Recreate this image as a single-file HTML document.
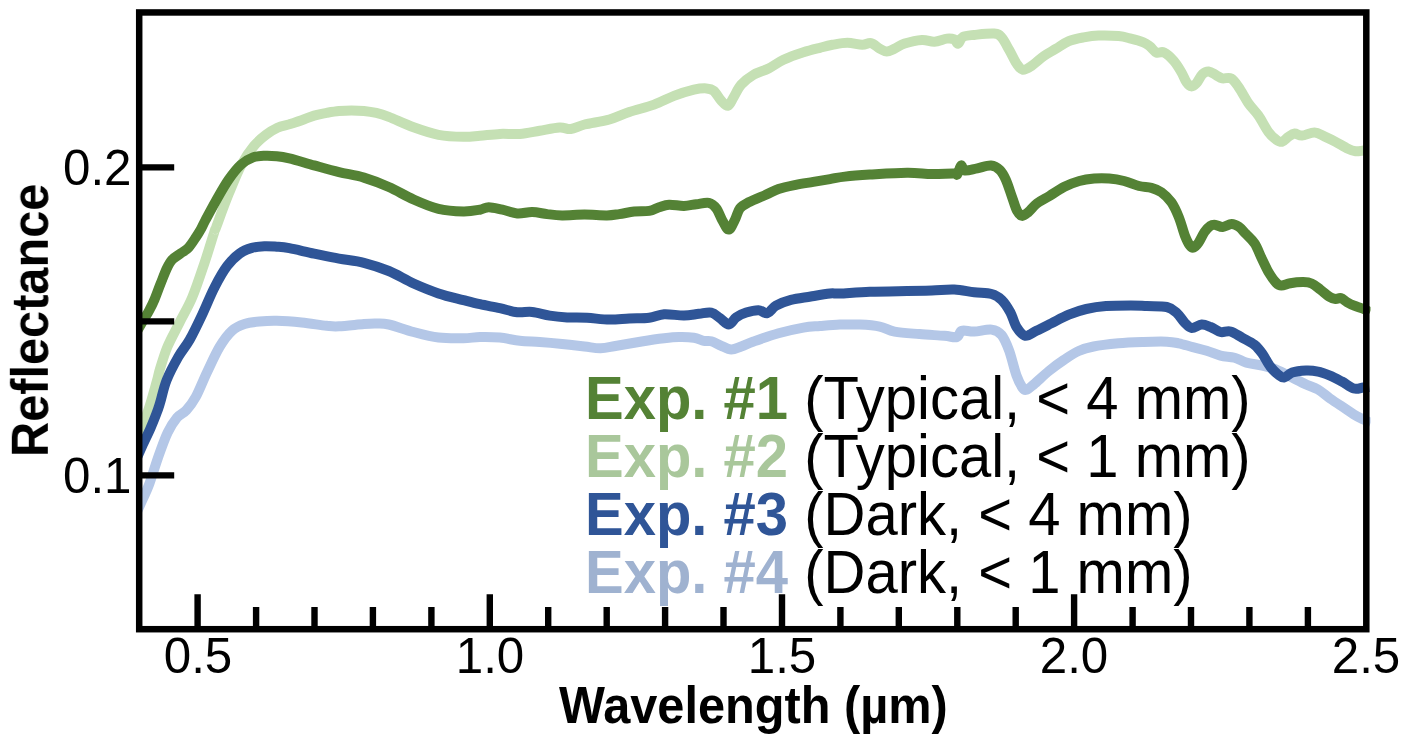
<!DOCTYPE html>
<html lang="en"><head><meta charset="utf-8"><title>Reflectance spectra</title>
<style>
html,body{margin:0;padding:0;background:#fff;}
body{width:1407px;height:745px;position:relative;overflow:hidden;font-family:"Liberation Sans",Arial,sans-serif;color:#000;}
svg{position:absolute;left:0;top:0;display:block;}
.t{position:absolute;white-space:nowrap;line-height:1;will-change:transform;}
.ax{font-size:49.3px;}
.b{font-weight:bold;}
.lg{font-size:58px;left:584.7px;transform-origin:0 84.65%;transform:scaleY(1.045);}
.c1{color:#548235}.c2{color:#a9c79b}.c3{color:#2f5597}.c4{color:#9fb2d0}
</style></head><body>
<svg width="1407" height="745" viewBox="0 0 1407 745">
<rect width="1407" height="745" fill="#fff"/>
<clipPath id="cp"><rect x="139" y="9" width="1231.5" height="623"/></clipPath>
<g fill="none" clip-path="url(#cp)" stroke-linejoin="round" stroke-linecap="butt" stroke-width="10">
<path stroke="#b4c7e7" d="M136.0 514.0C137.0 511.7 140.1 505.1 142.2 500.3C144.3 495.5 146.1 492.5 148.8 485.3C151.5 478.1 155.1 465.9 158.2 457.1C161.3 448.3 164.5 439.2 167.6 432.6C170.7 426.0 173.9 421.4 177.0 417.6C180.1 413.9 183.3 413.6 186.4 410.1C189.5 406.7 192.3 403.3 195.8 396.9C199.3 390.5 203.2 380.1 207.2 371.8C211.2 363.5 215.5 353.8 219.6 346.9C223.7 340.0 227.8 334.5 232.0 330.7C236.2 326.9 239.9 325.5 244.5 324.0C249.1 322.5 254.0 322.0 259.4 321.5C264.8 321.0 269.8 320.6 276.8 320.8C283.9 321.0 293.4 321.7 301.7 322.5C310.0 323.3 320.4 325.2 326.6 325.8C332.8 326.4 332.8 326.6 339.0 326.3C345.2 326.0 357.7 324.5 363.9 324.0C370.1 323.5 372.1 323.4 376.3 323.5C380.5 323.6 382.6 323.1 388.8 324.5C395.0 325.9 405.3 329.8 413.6 332.0C421.9 334.2 430.2 336.5 438.5 337.5C446.8 338.5 456.5 338.3 463.4 338.2C470.3 338.1 473.9 337.2 480.0 337.1C486.1 337.0 493.3 337.0 499.9 337.6C506.5 338.2 513.2 340.1 519.8 340.8C526.4 341.5 532.7 341.5 539.7 342.0C546.8 342.5 554.6 343.2 562.1 344.0C569.6 344.8 578.1 345.8 584.5 346.5C590.9 347.2 595.2 348.4 600.6 348.3C606.0 348.2 609.9 346.9 616.8 345.8C623.6 344.7 633.8 342.8 641.7 341.5C649.6 340.2 657.9 339.0 664.1 338.3C670.3 337.6 674.0 337.2 679.0 337.1C684.0 337.0 689.8 337.2 693.9 337.8C698.0 338.4 701.0 340.2 703.9 340.8C706.8 341.4 708.4 340.5 711.3 341.3C714.2 342.1 718.0 344.4 721.3 345.8C724.6 347.2 727.9 349.4 731.2 349.5C734.5 349.6 737.5 347.8 741.2 346.5C744.9 345.2 747.4 343.7 753.6 341.5C759.8 339.3 770.2 335.6 778.5 333.3C786.8 331.0 796.5 328.8 803.4 327.6C810.3 326.4 813.9 326.5 820.0 326.0C826.1 325.5 833.3 324.8 839.9 324.6C846.5 324.4 853.2 324.3 859.8 324.6C866.4 324.9 873.9 325.4 879.7 326.6C885.5 327.8 888.0 330.4 894.6 331.6C901.2 332.9 911.2 333.4 919.5 334.1C927.8 334.8 938.2 335.3 944.4 335.8C950.6 336.3 953.9 337.9 956.8 337.1C959.7 336.3 958.9 331.7 961.8 330.8C964.7 329.9 969.2 331.8 974.2 331.6C979.2 331.4 987.0 329.0 991.6 329.6C996.2 330.2 998.7 331.5 1001.6 335.0C1004.5 338.5 1006.6 343.8 1009.1 350.5C1011.6 357.2 1014.2 369.2 1016.5 375.5C1018.8 381.8 1021.0 385.7 1022.7 388.1C1024.4 390.5 1024.6 390.4 1026.5 389.8C1028.4 389.2 1030.2 387.4 1033.9 384.3C1037.6 381.2 1043.9 375.1 1048.9 371.0C1053.9 366.9 1058.8 363.3 1063.8 360.0C1068.8 356.7 1073.7 353.2 1078.7 351.0C1083.7 348.8 1087.0 347.8 1093.6 346.5C1100.2 345.2 1110.2 344.1 1118.5 343.3C1126.8 342.6 1135.4 342.3 1143.4 342.0C1151.5 341.7 1160.9 341.5 1166.8 341.7C1172.7 341.9 1174.4 342.4 1178.7 343.3C1183.0 344.2 1188.1 345.9 1192.7 347.1C1197.3 348.3 1202.0 349.3 1206.6 350.7C1211.2 352.1 1215.8 354.5 1220.5 355.7C1225.2 356.9 1230.2 356.5 1234.5 357.7C1238.8 358.9 1241.8 361.3 1246.4 362.6C1251.0 363.9 1257.3 364.4 1262.3 365.6C1267.3 366.8 1271.3 367.6 1276.3 369.6C1281.3 371.6 1287.2 375.1 1292.2 377.6C1297.2 380.1 1301.8 382.5 1306.1 384.5C1310.4 386.5 1314.0 387.2 1318.0 389.5C1322.0 391.8 1326.0 395.7 1330.0 398.5C1334.0 401.3 1337.9 403.8 1341.9 406.4C1345.9 409.0 1350.4 412.2 1353.9 414.4C1357.5 416.6 1360.4 418.0 1363.2 419.4C1366.0 420.8 1369.5 422.3 1370.8 422.9"/>
<path stroke="#c5e0b4" d="M136.0 452.0C137.0 448.0 139.9 435.8 142.2 428.0C144.5 420.2 147.6 412.8 150.0 405.0C152.4 397.2 155.2 386.9 156.9 381.0C158.6 375.1 158.2 375.0 159.9 369.3C161.7 363.6 164.1 354.8 167.4 346.9C170.7 339.0 175.7 330.3 179.8 322.0C184.0 313.7 188.2 307.1 192.3 297.2C196.5 287.2 201.0 273.2 204.7 262.3C208.4 251.4 212.3 238.1 214.3 232.0C216.3 225.9 214.2 232.5 216.6 226.0C219.0 219.5 224.8 203.4 229.0 193.2C233.2 183.0 237.3 172.5 241.5 164.6C245.7 156.7 249.8 151.0 253.9 146.0C258.0 141.0 262.1 137.8 266.0 134.8C269.9 131.8 273.6 129.6 277.5 127.8C281.4 126.0 285.3 125.5 289.3 124.3C293.3 123.0 297.6 121.8 301.7 120.3C305.8 118.8 310.0 116.8 314.1 115.6C318.2 114.4 322.5 113.7 326.6 112.9C330.8 112.2 334.9 111.5 339.0 111.1C343.1 110.7 347.2 110.4 351.4 110.4C355.5 110.4 359.8 110.5 363.9 110.9C368.0 111.3 372.1 111.9 376.3 112.9C380.5 113.9 382.6 114.5 388.8 116.9C395.0 119.3 405.3 124.3 413.6 127.3C421.9 130.3 430.2 133.2 438.5 134.8C446.8 136.4 456.5 136.7 463.4 136.8C470.3 137.0 473.9 136.2 480.0 135.7C486.1 135.2 493.3 134.2 499.9 133.9C506.5 133.6 513.2 134.4 519.8 133.9C526.4 133.4 533.1 131.8 539.7 130.7C546.3 129.6 554.4 127.8 559.6 127.5C564.8 127.2 566.6 129.5 570.8 129.0C574.9 128.5 578.1 126.1 584.5 124.5C590.9 122.9 601.9 121.6 609.4 119.5C616.9 117.4 621.8 114.5 629.3 112.0C636.8 109.5 646.6 107.3 654.1 104.6C661.6 101.9 667.4 98.4 674.0 95.9C680.6 93.4 688.5 91.0 693.9 89.7C699.3 88.5 703.1 88.2 706.4 88.4C709.7 88.6 711.3 88.8 713.8 90.9C716.3 93.0 718.9 98.3 721.3 100.8C723.7 103.3 725.9 106.4 728.0 105.8C730.1 105.2 731.5 100.6 733.7 97.1C735.9 93.6 737.9 88.4 741.2 84.7C744.5 81.0 749.0 77.4 753.6 74.7C758.2 72.0 763.6 71.0 768.6 68.5C773.6 66.0 777.7 62.5 783.5 59.8C789.3 57.1 797.3 54.3 803.4 52.3C809.5 50.3 815.2 49.0 820.0 47.8C824.8 46.5 827.8 45.6 832.4 44.8C837.0 44.0 842.4 42.8 847.4 42.8C852.4 42.8 858.4 44.8 862.3 44.8C866.2 44.8 868.1 42.5 871.0 43.1C873.9 43.7 877.1 47.2 879.7 48.6C882.3 50.0 884.2 51.5 886.7 51.5C889.2 51.5 891.6 49.9 894.6 48.6C897.6 47.3 900.0 45.1 904.6 43.6C909.2 42.1 917.0 40.2 922.0 39.9C927.0 39.6 930.2 42.0 934.4 41.8C938.5 41.6 943.6 39.0 946.9 38.6C950.2 38.2 952.4 38.6 954.3 39.4C956.2 40.2 956.6 44.0 958.1 43.6C959.6 43.2 960.3 38.4 963.0 36.9C965.7 35.4 969.0 35.4 974.2 34.9C979.4 34.4 989.5 33.2 994.1 33.6C998.7 34.0 999.1 34.7 1001.6 37.4C1004.1 40.1 1006.6 45.4 1009.1 49.8C1011.6 54.1 1014.2 60.2 1016.5 63.5C1018.8 66.8 1020.2 69.3 1022.7 69.7C1025.2 70.1 1027.9 68.3 1031.4 66.0C1034.9 63.7 1039.8 58.9 1043.9 56.0C1048.1 53.1 1052.2 51.1 1056.3 48.6C1060.4 46.1 1064.2 43.0 1068.8 41.1C1073.4 39.2 1078.7 38.3 1083.7 37.4C1088.7 36.5 1092.8 35.8 1098.6 35.6C1104.4 35.4 1113.1 35.6 1118.5 36.1C1123.9 36.6 1126.8 37.6 1130.9 38.6C1135.1 39.6 1140.2 41.0 1143.4 42.3C1146.6 43.6 1147.8 44.8 1150.0 46.5C1152.2 48.2 1154.2 51.6 1156.5 52.6C1158.8 53.6 1161.1 51.1 1164.0 52.5C1166.9 53.9 1171.0 57.7 1173.9 61.0C1176.8 64.3 1179.3 68.7 1181.4 72.2C1183.5 75.7 1184.8 79.7 1186.4 82.1C1188.1 84.5 1189.7 86.2 1191.3 86.4C1192.9 86.6 1194.4 85.4 1196.3 83.4C1198.2 81.4 1200.4 76.2 1202.5 74.2C1204.6 72.2 1206.4 71.2 1208.7 71.4C1211.0 71.6 1213.9 74.0 1216.2 75.2C1218.5 76.4 1219.9 77.9 1222.4 78.4C1224.9 78.9 1228.4 77.0 1231.1 78.4C1233.8 79.9 1235.7 82.9 1238.6 87.1C1241.5 91.2 1245.2 98.5 1248.5 103.3C1251.8 108.1 1255.2 110.9 1258.5 115.7C1261.8 120.5 1265.5 128.0 1268.4 131.9C1271.3 135.8 1273.6 137.8 1275.9 139.4C1278.2 141.1 1280.0 142.2 1282.1 141.8C1284.2 141.4 1286.2 138.3 1288.3 136.9C1290.4 135.5 1292.3 133.8 1294.6 133.6C1296.9 133.4 1298.7 135.8 1302.0 135.6C1305.3 135.4 1310.8 132.3 1314.5 132.4C1318.2 132.5 1320.9 134.8 1324.4 136.4C1327.9 138.0 1331.7 139.7 1335.6 141.8C1339.5 143.9 1344.7 147.2 1348.0 148.8C1351.3 150.4 1352.9 151.0 1355.5 151.3C1358.1 151.6 1361.4 150.7 1363.5 150.5C1365.6 150.3 1367.2 150.1 1368.0 150.0"/>
<path stroke="#2f5597" d="M136.0 460.0C137.0 457.7 139.8 451.4 142.2 446.0C144.6 440.6 148.2 433.4 150.6 427.9C153.0 422.4 155.1 416.9 156.7 412.8C158.3 408.7 158.3 408.5 160.0 403.0C161.7 397.5 163.6 387.7 166.7 380.0C169.8 372.3 174.5 363.6 178.3 356.9C182.2 350.1 185.8 346.6 189.8 339.5C193.8 332.4 198.1 323.3 202.2 314.6C206.3 305.9 210.4 295.3 214.6 287.2C218.8 279.1 222.9 271.7 227.1 266.1C231.2 260.5 235.4 256.6 239.5 253.6C243.6 250.6 247.8 249.1 251.9 247.9C256.1 246.7 260.2 246.4 264.4 246.2C268.5 246.0 272.6 246.4 276.8 246.7C281.0 247.0 283.1 247.0 289.3 248.2C295.5 249.3 305.8 251.9 314.1 253.6C322.4 255.3 330.7 257.1 339.0 258.6C347.3 260.1 355.6 260.7 363.9 262.8C372.2 264.9 380.5 267.6 388.8 271.0C397.1 274.4 405.3 279.8 413.6 283.5C421.9 287.2 430.2 290.6 438.5 293.4C446.8 296.2 456.5 298.3 463.4 300.1C470.3 301.9 473.9 302.9 480.0 304.2C486.1 305.5 493.7 306.9 499.9 308.2C506.1 309.5 511.9 311.6 517.3 312.2C522.7 312.8 526.8 311.4 532.2 312.0C537.6 312.6 543.9 314.7 549.7 315.6C555.5 316.5 560.9 317.0 567.1 317.4C573.3 317.8 580.0 317.4 587.0 317.8C594.0 318.2 602.4 319.5 609.4 319.6C616.4 319.7 622.7 318.8 629.3 318.5C635.9 318.2 643.4 318.5 649.2 317.8C655.0 317.1 658.3 314.6 664.1 314.2C669.9 313.8 678.2 315.7 684.0 315.6C689.8 315.5 694.4 314.3 698.9 313.8C703.4 313.3 707.8 311.9 711.3 312.6C714.8 313.3 717.1 316.2 720.0 318.2C722.9 320.2 726.1 324.5 728.8 324.4C731.5 324.3 733.3 319.4 736.2 317.4C739.1 315.4 742.5 313.8 746.2 312.6C749.9 311.4 755.1 310.1 758.6 310.2C762.1 310.3 764.4 313.9 767.3 313.2C770.2 312.4 772.1 307.9 776.0 305.7C779.9 303.5 785.1 301.4 790.9 299.9C796.7 298.4 804.3 297.6 810.8 296.5C817.3 295.4 825.1 294.0 830.0 293.5C834.9 293.0 833.3 293.8 839.9 293.5C846.5 293.2 858.6 292.2 869.8 291.8C881.0 291.4 896.8 291.2 907.1 291.0C917.5 290.8 924.0 290.7 931.9 290.5C939.8 290.3 947.2 289.3 954.3 289.6C961.3 289.9 968.0 291.6 974.2 292.3C980.4 293.0 987.0 292.8 991.6 294.0C996.2 295.2 998.5 296.8 1001.6 299.8C1004.7 302.8 1007.8 307.7 1010.3 312.2C1012.8 316.7 1014.0 323.1 1016.5 327.0C1019.0 330.9 1021.9 335.2 1025.2 335.8C1028.5 336.4 1032.1 332.9 1036.4 330.8C1040.8 328.7 1045.9 326.1 1051.3 323.4C1056.7 320.7 1063.0 317.1 1068.8 314.7C1074.6 312.3 1080.0 310.4 1086.2 309.0C1092.4 307.6 1098.6 306.6 1106.1 306.0C1113.5 305.4 1124.1 305.4 1130.9 305.4C1137.7 305.4 1140.9 305.8 1146.9 306.1C1152.9 306.4 1161.8 305.9 1166.8 307.0C1171.8 308.1 1173.8 310.4 1176.8 313.0C1179.8 315.6 1182.2 320.2 1184.7 322.7C1187.2 325.2 1188.9 327.7 1191.7 328.0C1194.5 328.3 1198.4 324.8 1201.6 324.6C1204.8 324.4 1207.4 325.8 1210.6 327.0C1213.8 328.2 1217.2 331.2 1220.5 332.0C1223.8 332.8 1226.8 330.5 1230.5 331.5C1234.2 332.5 1238.4 335.6 1242.4 337.8C1246.4 340.0 1251.1 342.1 1254.4 344.7C1257.7 347.3 1259.7 350.0 1262.3 353.7C1264.9 357.4 1267.6 363.1 1270.3 366.6C1273.0 370.1 1275.9 372.8 1278.2 374.6C1280.5 376.4 1281.9 377.9 1284.2 377.6C1286.5 377.3 1288.6 373.8 1292.2 372.6C1295.8 371.4 1301.8 370.8 1306.1 370.6C1310.4 370.4 1314.0 370.8 1318.0 371.6C1322.0 372.4 1326.0 374.0 1330.0 375.6C1334.0 377.2 1337.9 379.4 1341.9 381.5C1345.9 383.6 1350.4 387.5 1353.9 388.5C1357.5 389.5 1360.7 387.7 1363.2 387.5C1365.8 387.3 1368.2 387.2 1369.2 387.1"/>
<path stroke="#548235" d="M136.0 333.0C137.1 331.1 140.2 325.7 142.5 321.8C144.8 317.9 147.5 313.6 149.5 309.9C151.5 306.2 152.7 303.8 154.5 299.5C156.3 295.2 158.3 289.4 160.4 284.2C162.5 279.0 164.9 272.4 166.9 268.3C168.9 264.2 169.9 262.2 172.2 259.7C174.5 257.2 178.1 255.3 180.8 253.3C183.5 251.3 185.8 250.6 188.3 247.9C190.8 245.2 193.8 240.4 195.9 237.2C198.1 234.0 199.6 231.5 201.2 228.6C202.8 225.7 203.0 224.7 205.5 220.0C208.0 215.3 212.2 207.4 216.0 200.7C219.8 194.0 224.4 185.6 228.6 179.6C232.8 173.6 236.9 168.3 241.0 164.6C245.1 160.9 249.0 158.9 253.0 157.4C257.0 155.9 261.0 155.9 265.0 155.7C269.0 155.5 272.8 155.8 276.8 156.2C280.9 156.6 283.1 156.9 289.3 158.4C295.5 159.9 305.8 163.1 314.1 165.4C322.4 167.7 330.7 170.1 339.0 172.1C347.3 174.1 355.6 175.1 363.9 177.6C372.2 180.1 380.5 183.3 388.8 187.0C397.1 190.7 405.3 195.8 413.6 199.5C421.9 203.2 430.2 206.9 438.5 208.9C446.8 210.9 456.5 211.3 463.4 211.4C470.3 211.5 475.8 210.4 480.0 209.7C484.2 209.0 485.0 207.2 488.7 207.2C492.4 207.2 497.6 208.7 502.4 209.7C507.2 210.7 512.3 213.0 517.3 213.4C522.3 213.8 527.2 212.0 532.2 212.1C537.2 212.2 542.2 213.5 547.2 214.1C552.2 214.7 555.9 215.3 562.1 215.4C568.3 215.5 577.0 214.6 584.5 214.6C592.0 214.6 601.1 215.5 606.9 215.4C612.7 215.3 614.8 214.7 619.3 214.1C623.8 213.5 629.2 212.1 634.2 211.6C639.2 211.1 645.1 211.6 649.2 210.9C653.4 210.2 655.8 208.2 659.1 207.2C662.4 206.2 665.0 204.9 669.1 204.7C673.2 204.5 679.5 206.0 684.0 205.9C688.5 205.8 692.2 204.7 696.4 204.2C700.5 203.7 705.6 202.2 708.9 202.9C712.2 203.6 714.0 205.4 716.3 208.4C718.6 211.4 720.4 217.3 722.5 220.8C724.6 224.3 726.7 229.8 728.8 229.6C730.9 229.4 733.1 223.1 735.0 219.6C736.9 216.1 737.6 211.3 739.9 208.4C742.2 205.5 744.3 204.6 748.7 202.3C753.1 200.0 761.1 196.9 766.1 194.7C771.1 192.5 773.5 190.7 778.5 189.0C783.5 187.3 790.1 186.0 795.9 184.8C801.7 183.6 807.6 182.8 813.3 181.8C819.0 180.9 824.7 180.0 830.0 179.1C835.3 178.2 838.3 177.3 844.9 176.6C851.5 175.8 859.4 175.2 869.8 174.6C880.2 174.0 896.8 172.9 907.1 172.8C917.5 172.7 924.1 173.9 931.9 174.0C939.7 174.1 949.5 173.5 953.7 173.6C958.0 173.7 956.2 175.7 957.4 174.3C958.6 173.0 959.9 166.1 961.1 165.5C962.4 164.9 962.2 170.0 964.9 170.5C967.6 171.0 972.9 169.1 977.3 168.3C981.6 167.5 987.3 165.3 991.0 165.6C994.7 165.9 997.2 167.5 999.7 169.9C1002.2 172.3 1003.8 175.2 1005.9 179.8C1008.0 184.4 1010.2 192.0 1012.1 197.2C1014.0 202.4 1015.4 207.8 1017.1 210.9C1018.8 214.0 1020.2 215.7 1022.1 215.9C1024.0 216.1 1025.8 214.2 1028.3 212.1C1030.8 210.0 1033.5 206.1 1037.0 203.4C1040.5 200.7 1044.9 198.8 1049.5 196.0C1054.1 193.2 1059.4 189.3 1064.4 186.8C1069.4 184.3 1074.3 182.4 1079.3 181.0C1084.3 179.6 1089.2 179.0 1094.2 178.6C1099.2 178.2 1104.2 178.2 1109.2 178.6C1114.2 179.0 1119.1 179.8 1124.1 181.0C1129.1 182.2 1134.5 184.9 1139.0 186.0C1143.5 187.1 1147.7 186.8 1151.4 187.8C1155.1 188.8 1158.1 189.8 1161.4 192.2C1164.7 194.6 1168.4 198.0 1171.3 202.2C1174.2 206.3 1176.5 211.5 1178.8 217.1C1181.1 222.7 1183.1 231.0 1185.0 235.8C1186.9 240.6 1188.5 243.8 1190.0 245.7C1191.5 247.6 1192.2 248.0 1193.7 247.5C1195.2 247.0 1196.9 245.1 1198.7 242.5C1200.5 239.9 1202.6 234.8 1204.5 232.0C1206.4 229.2 1208.5 227.0 1210.3 225.8C1212.1 224.6 1213.5 224.7 1215.6 224.9C1217.7 225.1 1220.0 227.2 1222.7 227.0C1225.4 226.8 1228.9 224.1 1231.6 224.0C1234.3 223.9 1236.3 225.1 1238.7 226.7C1241.1 228.3 1243.1 231.0 1245.8 233.8C1248.5 236.6 1252.0 239.4 1254.7 243.5C1257.4 247.6 1259.4 253.7 1261.8 258.6C1264.2 263.5 1266.5 268.8 1268.9 272.8C1271.3 276.8 1273.9 280.5 1276.0 282.6C1278.1 284.7 1279.0 285.5 1281.4 285.6C1283.8 285.7 1286.8 283.8 1290.3 283.2C1293.8 282.6 1299.2 282.1 1302.7 282.1C1306.2 282.2 1308.6 282.2 1311.6 283.5C1314.6 284.8 1317.5 287.5 1320.5 289.7C1323.5 291.9 1326.9 295.2 1329.4 296.8C1331.9 298.4 1333.7 298.8 1335.6 299.0C1337.5 299.2 1339.0 297.6 1340.9 298.1C1342.8 298.6 1344.9 300.9 1347.1 302.2C1349.3 303.5 1351.5 304.6 1354.2 305.7C1356.9 306.8 1360.5 307.6 1363.1 308.7C1365.7 309.8 1368.8 311.6 1370.0 312.2"/>
</g>
<g stroke="#000" fill="none">
<rect x="139.20" y="12.45" width="1227.10" height="616.75" stroke-width="6.5"/>
<path stroke-width="6.4" d="M139.2 167.4H174.2M139.2 321.4H174.2M139.2 475.4H174.2M197.6 629.2V594.2M256.1 629.2V607.0M314.5 629.2V607.0M372.9 629.2V607.0M431.4 629.2V607.0M489.8 629.2V594.2M548.2 629.2V607.0M606.7 629.2V607.0M665.1 629.2V607.0M723.5 629.2V607.0M782.0 629.2V594.2M840.4 629.2V607.0M898.8 629.2V607.0M957.3 629.2V607.0M1015.7 629.2V607.0M1074.1 629.2V594.2M1132.6 629.2V607.0M1191.0 629.2V607.0M1249.4 629.2V607.0M1307.9 629.2V607.0"/>
</g>
</svg>
<div class="t ax" id="y02" style="left:63px;top:143px">0.2</div>
<div class="t ax" id="y01" style="left:63px;top:451px">0.1</div>
<div class="t ax" id="x05" style="left:197.6px;top:631.3px;transform:translateX(-50%)">0.5</div>
<div class="t ax" id="x10" style="left:489.8px;top:631.3px;transform:translateX(-50%)">1.0</div>
<div class="t ax" id="x15" style="left:782.0px;top:631.3px;transform:translateX(-50%)">1.5</div>
<div class="t ax" id="x20" style="left:1074.1px;top:631.3px;transform:translateX(-50%)">2.0</div>
<div class="t ax" id="x25" style="left:1366.3px;top:631.3px;transform:translateX(-50%)">2.5</div>
<div class="t ax b" id="xt" style="left:559px;top:682px;font-size:48.7px;transform-origin:0 84.65%;transform:scaleY(1.045)">Wavelength (µm)</div>
<div class="t ax b" id="yt" style="left:4.1px;top:457.2px;font-size:48.7px;transform-origin:0 0;transform:rotate(-90deg) scaleY(1.06)">Reflectance</div>
<div class="t lg" id="l1" style="top:370.2px"><b class="c1">Exp. #1</b> (Typical, &lt; 4 mm)</div>
<div class="t lg" id="l2" style="top:428.15px"><b class="c2">Exp. #2</b> (Typical, &lt; 1 mm)</div>
<div class="t lg" id="l3" style="top:486.1px"><b class="c3">Exp. #3</b> (Dark, &lt; 4 mm)</div>
<div class="t lg" id="l4" style="top:544.05px"><b class="c4">Exp. #4</b> (Dark, &lt; 1 mm)</div>
</body></html>
